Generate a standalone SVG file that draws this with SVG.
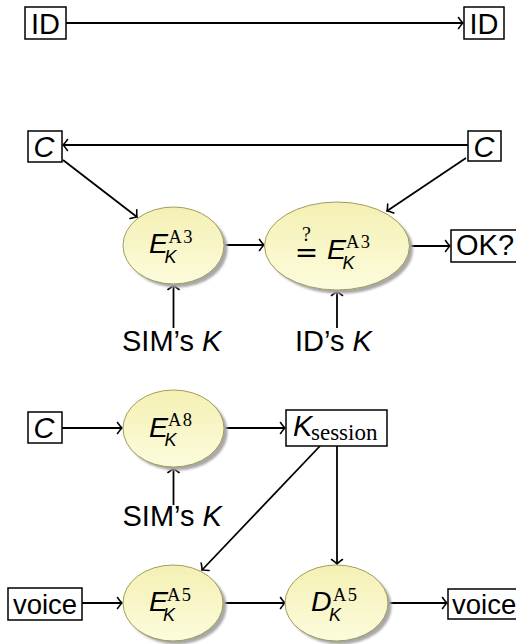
<svg xmlns="http://www.w3.org/2000/svg" width="516" height="644" viewBox="0 0 516 644">
<style>
.box{fill:#fff;stroke:#000;stroke-width:1.5}
.t{font-family:"Liberation Sans",Arial,sans-serif;font-size:29px;fill:#000}
.v{font-family:"Liberation Sans",Arial,sans-serif;font-size:27.5px;fill:#000}
.i{font-family:"Liberation Sans",Arial,sans-serif;font-style:italic;font-size:29px;fill:#000}
.e{font-family:"Liberation Sans",Arial,sans-serif;font-style:italic;font-size:28.5px;fill:#000}
.sub{font-family:"Liberation Sans",Arial,sans-serif;font-style:italic;font-size:18px;fill:#000}
.sup{font-family:"Liberation Serif","Times New Roman",serif;font-size:18.5px;letter-spacing:1.5px;fill:#000}
.q{font-family:"Liberation Serif","Times New Roman",serif;font-size:20px;fill:#000}
.ser{font-family:"Liberation Serif","Times New Roman",serif;font-size:23px;fill:#000}
.ell{fill:url(#yg);stroke:#a39c5e;stroke-width:1}
.sh{fill:#a8a8a8;filter:url(#bl)}
.c line{stroke:#000;stroke-width:1.8;fill:none;marker-end:url(#arr)}
</style>
<defs>
<linearGradient id="yg" x1="0" y1="0" x2="0" y2="1">
<stop offset="0" stop-color="#f4f0b4"/>
<stop offset="1" stop-color="#fcfcdc"/>
</linearGradient>
<filter id="bl" x="-20%" y="-20%" width="140%" height="140%"><feGaussianBlur stdDeviation="1.2"/></filter>
<marker id="arr" viewBox="-7 -7 9 14" markerWidth="9" markerHeight="14" refX="0" refY="0" orient="auto" markerUnits="userSpaceOnUse">
<path d="M-4.5,-5.5 Q-1.5,-1.2 0,0 Q-1.5,1.2 -4.5,5.5" fill="none" stroke="#000" stroke-width="1.6" stroke-linecap="round"/>
</marker>
</defs>

<g class="c" id="connectors">
<line x1="66" y1="23" x2="463" y2="23"/>
<line x1="468" y1="145" x2="63" y2="145"/>
<line x1="63" y1="160" x2="137" y2="217"/>
<line x1="466" y1="158" x2="387" y2="211"/>
<line x1="224" y1="245" x2="264" y2="245"/>
<line x1="409" y1="246" x2="450" y2="246"/>
<line x1="173.5" y1="328" x2="173.5" y2="285"/>
<line x1="337" y1="328" x2="337" y2="291"/>
<line x1="62" y1="428" x2="122" y2="428"/>
<line x1="224" y1="428" x2="285" y2="428"/>
<line x1="173.5" y1="505" x2="173.5" y2="468"/>
<line x1="320" y1="446" x2="202" y2="570"/>
<line x1="337" y1="446" x2="337" y2="564"/>
<line x1="82" y1="603" x2="122" y2="603"/>
<line x1="223" y1="603" x2="285" y2="603"/>
<line x1="388" y1="603" x2="447" y2="603"/>
</g>

<g id="id1"><rect class="box" x="25" y="7" width="41" height="32"/><text class="t" x="45.5" y="34" text-anchor="middle">ID</text></g>
<g id="id2"><rect class="box" x="464" y="7" width="40" height="32"/><text class="t" x="484" y="34" text-anchor="middle">ID</text></g>

<g id="c1"><rect class="box" x="28" y="131" width="34" height="31"/><text class="i" x="44" y="157" text-anchor="middle">C</text></g>
<g id="c2"><rect class="box" x="468" y="131" width="33" height="30"/><text class="i" x="484" y="157" text-anchor="middle">C</text></g>

<g id="e1">
<ellipse class="sh" cx="177" cy="249" rx="50.5" ry="38.5"/>
<ellipse class="ell" cx="173.5" cy="245.5" rx="50.5" ry="38.5"/>
<text class="e" x="149" y="253">E</text>
<text class="sup" x="168.5" y="243">A3</text>
<text class="sub" x="164.5" y="262.5">K</text>
</g>

<g id="e2">
<ellipse class="sh" cx="340.5" cy="249.5" rx="72.5" ry="44"/>
<ellipse class="ell" cx="337" cy="246" rx="72.5" ry="44"/>
<text class="q" x="306.5" y="241" text-anchor="middle">?</text>
<text x="306.5" y="262" text-anchor="middle" style="font-family:'DejaVu Sans',sans-serif;font-size:28px">=</text>
<text class="e" x="327" y="259">E</text>
<text class="sup" x="346" y="248">A3</text>
<text class="sub" x="342.5" y="268.5">K</text>
</g>

<g id="ok"><rect class="box" x="451" y="230" width="70" height="32"/><text class="t" x="456" y="255">OK?</text></g>

<g id="simk1"><text class="t" x="122" y="351">SIM’s <tspan class="i">K</tspan></text></g>
<g id="idk"><text class="t" x="295" y="351">ID’s <tspan class="i">K</tspan></text></g>

<g id="c3"><rect class="box" x="28" y="412" width="34" height="31"/><text class="i" x="44" y="438" text-anchor="middle">C</text></g>

<g id="e3">
<ellipse class="sh" cx="177" cy="432" rx="50.5" ry="38.5"/>
<ellipse class="ell" cx="173.5" cy="428.5" rx="50.5" ry="38.5"/>
<text class="e" x="149" y="436.5">E</text>
<text class="sup" x="168" y="426">A8</text>
<text class="sub" x="164.5" y="446">K</text>
</g>

<g id="ks"><rect class="box" x="286" y="410" width="101" height="36"/><text class="i" x="293" y="436">K</text><text class="ser" x="311" y="440">session</text></g>

<g id="simk2"><text class="t" x="122.5" y="526">SIM’s <tspan class="i">K</tspan></text></g>

<g id="v1"><rect class="box" x="8" y="588" width="74" height="32"/><text class="v" x="45" y="614" text-anchor="middle">voice</text></g>

<g id="e4">
<ellipse class="sh" cx="176.5" cy="606.5" rx="50" ry="38"/>
<ellipse class="ell" cx="173" cy="603" rx="50" ry="38"/>
<text class="e" x="149" y="611">E</text>
<text class="sup" x="167" y="600.5">A5</text>
<text class="sub" x="163" y="620.5">K</text>
</g>

<g id="d1">
<ellipse class="sh" cx="340" cy="606.5" rx="51.5" ry="38"/>
<ellipse class="ell" cx="336.5" cy="603" rx="51.5" ry="38"/>
<text class="e" x="311" y="611">D</text>
<text class="sup" x="333" y="600.5">A5</text>
<text class="sub" x="329" y="620.5">K</text>
</g>

<g id="v2"><rect class="box" x="448" y="589" width="74" height="30"/><text class="v" x="452" y="614">voice</text></g>
</svg>
